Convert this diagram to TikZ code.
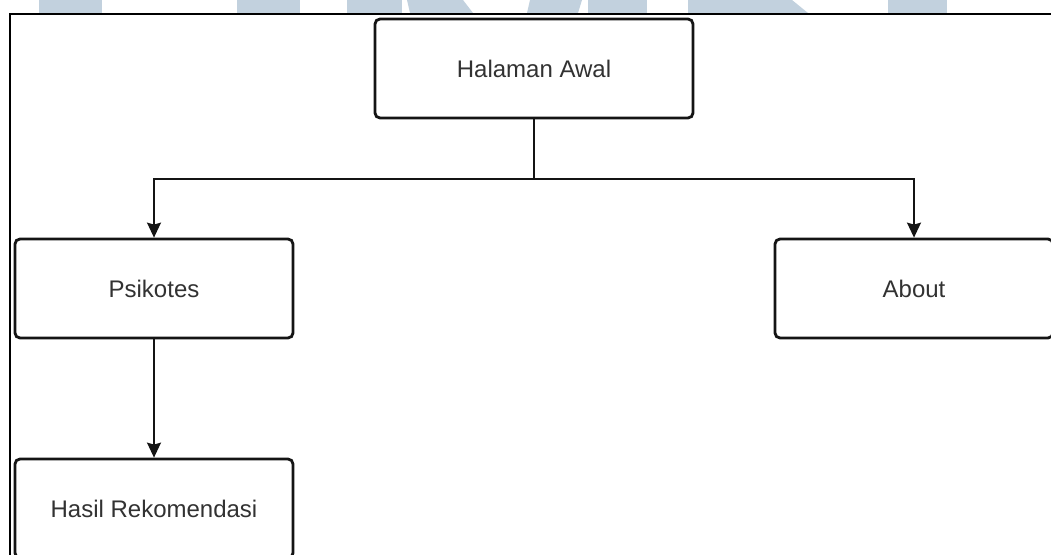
\documentclass[tikz,border=0pt]{standalone}
\usepackage{fontspec}
\setmainfont{Liberation Sans}
\usetikzlibrary{arrows.meta}
\definecolor{wm}{RGB}{194,209,222}
\definecolor{txt}{RGB}{50,50,50}
\definecolor{edge}{RGB}{20,20,20}
\tikzset{
  box/.style={draw=edge, rectangle, rounded corners=5pt, line width=2.8pt,
    minimum height=99pt, text=txt, font=\fontsize{24}{28}\selectfont, inner sep=0pt},
  wide/.style={minimum width=318pt},
  narrow/.style={minimum width=278pt},
  conn/.style={draw=edge, line width=1.6pt},
  arr/.style={conn, -{Stealth[length=15pt,width=14pt,inset=2pt]}},
  frameline/.style={draw=black, line width=2pt}
}
\begin{document}
\begin{tikzpicture}[x=1pt,y=-1pt]
\useasboundingbox (0,0) rectangle (1051,554);
\clip (0,0) rectangle (1051,554);
\fill[white] (0,0) rectangle (1051,554);
% watermark remnants
\fill[wm] (39,0) rectangle (102,13);
\fill[wm] (237,0) rectangle (300,13);
\fill[wm] (347,0) rectangle (402,13);
\fill[wm] (407,0) -- (463,0) -- (473,13) -- (410,13) -- cycle;
\fill[wm] (530,0) -- (582,0) -- (578,13) -- (527,13) -- cycle;
\fill[wm] (588,0) rectangle (647,13);
\fill[wm] (688,0) -- (792,0) -- (808,13) -- (688,13) -- cycle;
\fill[wm] (888,0) rectangle (947,13);
% frame
\draw[frameline] (10,555) -- (10,14) -- (1052,14);
% nodes
\node[box,wide]   (ha) at (534,68.5)  {Halaman Awal};
\node[box,narrow] (ps) at (154,288.5) {Psikotes};
\node[box,narrow] (ab) at (914,288.5) {About};
\node[box,narrow] (hr) at (154,508.5) {Hasil Rekomendasi};
\coordinate (j) at (534,179);
% connectors
\draw[conn] (ha) -- (j);
\draw[arr] (j) -| (ps);
\draw[arr] (j) -| (ab);
\draw[arr] (ps) -- (hr);
\end{tikzpicture}
\end{document}
